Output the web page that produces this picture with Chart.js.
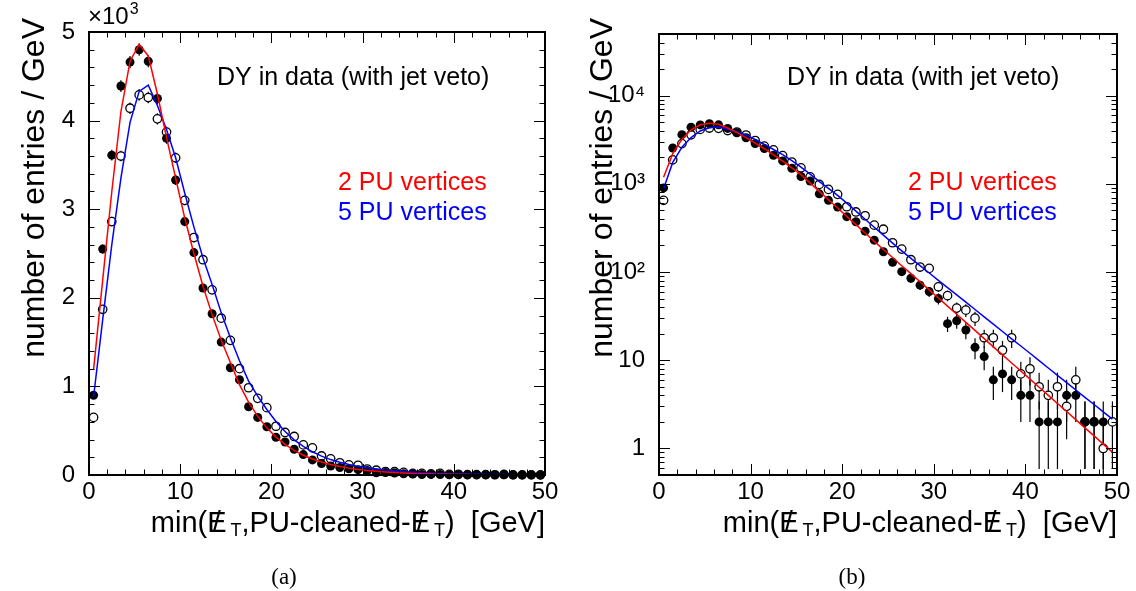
<!DOCTYPE html>
<html>
<head>
<meta charset="utf-8">
<script src="https://cdn.jsdelivr.net/npm/chart.js@4.4.1/dist/chart.umd.min.js"></script>
<style>
  html, body { margin: 0; padding: 0; background: #fff; }
  #page { position: relative; width: 1136px; height: 591px; overflow: hidden; }
  .panel { position: absolute; top: 0; width: 568px; height: 591px; }
  .caption { position: absolute; top: 564px; width: 568px; text-align: center;
             font-family: 'Liberation Serif', 'DejaVu Serif', serif; font-size: 23px; line-height: 26px; }
</style>
</head>
<body>
<div id="page">
  <div class="panel" style="left:0"><canvas id="chartLin" width="568" height="591"></canvas></div>
  <div class="panel" style="left:568px"><canvas id="chartLog" width="568" height="591"></canvas></div>
  <div class="caption" style="left:0">(a)</div>
  <div class="caption" style="left:568px">(b)</div>
</div>
<script>
/* ---- Dados ---- */
const binCenters = [0.5, 1.5, 2.5, 3.5, 4.5, 5.5, 6.5, 7.5, 8.5, 9.5,
  10.5, 11.5, 12.5, 13.5, 14.5, 15.5, 16.5, 17.5, 18.5, 19.5,
  20.5, 21.5, 22.5, 23.5, 24.5, 25.5, 26.5, 27.5, 28.5, 29.5,
  30.5, 31.5, 32.5, 33.5, 34.5, 35.5, 36.5, 37.5, 38.5, 39.5,
  40.5, 41.5, 42.5, 43.5, 44.5, 45.5, 46.5, 47.5, 48.5, 49.5];

// 2 PU vertices (marcador cheio)
const data2PU = [900, 2550, 3610, 4390, 4660, 4800, 4670, 4250, 3800, 3330,
  2860, 2510, 2110, 1820, 1500, 1210, 1075, 770, 650, 545,
  425, 372, 291, 230, 170, 129, 101, 85, 71, 60,
  50, 26, 28, 22, 14, 11, 6, 7, 6, 4,
  4, 2, 2, 2, 4, 4, 2, 2, 2, 0];

// 5 PU vertices (marcador aberto)
const data5PU = [650, 1870, 2860, 3600, 4140, 4290, 4260, 4020, 3870, 3580,
  3100, 2680, 2430, 2090, 1770, 1520, 1200, 985, 865, 760,
  550, 480, 435, 340, 306, 215, 182, 138, 114, 110,
  68, 54, 39, 37, 30, 18, 18, 13, 18, 7,
  8, 5, 4, 5, 3, 6, 2, 2, 1, 2];

// curvas ajustadas
const fit2PU = [1190, 2200, 3200, 4100, 4670, 4860, 4730, 4300, 3810, 3350,
  2900, 2500, 2130, 1810, 1520, 1270, 1020, 822, 661, 532,
  428, 345, 277, 223, 180, 146, 118, 96, 77.5, 62.8,
  50.8, 41.1, 33.2, 26.9, 21.8, 17.6, 14.2, 11.5, 9.3, 7.55,
  6.1, 4.94, 4.0, 3.23, 2.62, 2.12, 1.71, 1.39, 1.12, 0.91];

const fit5PU = [880, 1750, 2600, 3350, 3980, 4330, 4400, 4170, 3900, 3580,
  3180, 2800, 2450, 2150, 1830, 1550, 1290, 1060, 890, 740,
  605, 490, 397, 322, 262, 213, 174, 143, 118, 97.5,
  80.6, 66.6, 55, 45.5, 37.6, 31, 25.7, 21.2, 17.5, 14.5,
  12, 9.9, 8.17, 6.75, 5.58, 4.6, 3.8, 3.15, 2.6, 2.15];

const xTickLabels = [0, 10, 20, 30, 40, 50];
const linYTickLabels = [0, 1, 2, 3, 4, 5];          // x10^3
const logDecades = [1, 10, 100, 1000, 10000];

const noteText = 'DY in data (with jet veto)';
const legendLabels = ['2 PU vertices', '5 PU vertices'];
const yTitle = 'number of entries / GeV';

/* ---- Estilo ---- */
const FONT = "'Liberation Sans', Arial, Helvetica, sans-serif";
const SUP = { 2: '\u00b2', 3: '\u00b3', 4: '\u2074' };

const panelCfg = {
  chartLin: { log: false, area: { top: 32, left: 89, right: 545 }, noteX: 217, legX: 338, exp: true },
  chartLog: { log: true,  area: { top: 34, left: 91, right: 549 }, noteX: 219, legX: 340, exp: false }
};

/* ---- Plugin estilo ROOT: barras de erro, moldura, ticks internos, textos ---- */
const rootStyle = {
  id: 'rootStyle',
  beforeDatasetsDraw(chart) {
    const { ctx, chartArea: a, scales: { x, y } } = chart;
    ctx.save();
    ctx.beginPath();
    ctx.rect(a.left, a.top, a.right - a.left, a.bottom - a.top);
    ctx.clip();
    ctx.strokeStyle = '#000';
    ctx.lineWidth = 1.2;
    chart.data.datasets.forEach(ds => {
      if (!ds.errBars) return;
      ds.data.forEach(p => {
        if (p.y == null) return;
        const e = Math.sqrt(p.y);
        const px = x.getPixelForValue(p.x);
        const lo = (p.y - e) > y.min ? y.getPixelForValue(p.y - e) : a.bottom;
        const hi = y.getPixelForValue(p.y + e);
        ctx.beginPath();
        ctx.moveTo(px, lo);
        ctx.lineTo(px, hi);
        ctx.stroke();
      });
    });
    ctx.restore();
  },
  afterDraw(chart) {
    const cfg = panelCfg[chart.canvas.id];
    const { ctx, chartArea: a, scales: { x, y } } = chart;
    ctx.save();

    // ticks internos nos quatro lados
    ctx.strokeStyle = '#000';
    ctx.lineWidth = 1;
    const seg = (x1, y1, x2, y2) => { ctx.beginPath(); ctx.moveTo(x1, y1); ctx.lineTo(x2, y2); ctx.stroke(); };
    for (let v = 0; v <= 50; v += 2) {
      const px = Math.round(x.getPixelForValue(v)) + 0.5;
      const len = v % 10 === 0 ? 11 : 5.5;
      seg(px, a.bottom, px, a.bottom - len);
      seg(px, a.top, px, a.top + len);
    }
    const yTick = (v, major) => {
      const py = Math.round(y.getPixelForValue(v)) + 0.5;
      const len = major ? 11 : 5.5;
      seg(a.left, py, a.left + len, py);
      seg(a.right, py, a.right - len, py);
    };
    if (cfg.log) {
      for (let d = 0.1; d <= 1e4 * 1.01; d *= 10) {
        for (let m = 1; m <= 9; m++) {
          const v = d * m;
          if (v >= y.min * 0.999 && v <= y.max * 1.001) yTick(v, m === 1);
        }
      }
    } else {
      for (let v = 0; v <= 5000; v += 200) yTick(v, v % 1000 === 0);
    }

    // moldura
    ctx.lineWidth = 2;
    ctx.strokeRect(a.left, a.top, a.right - a.left, a.bottom - a.top);

    ctx.fillStyle = '#000';
    // x10^3
    if (cfg.exp) {
      ctx.font = `24px ${FONT}`;
      ctx.textBaseline = 'alphabetic';
      ctx.textAlign = 'left';
      const base = '\u00d710';
      ctx.fillText(base, 88, 24);
      const w = ctx.measureText(base).width;
      ctx.font = `16px ${FONT}`;
      ctx.fillText('3', 88 + w + 1, 14);
    }

    // título do eixo y (alinhado ao topo)
    ctx.save();
    ctx.font = `32px ${FONT}`;
    ctx.translate(35, 18);
    ctx.rotate(-Math.PI / 2);
    ctx.textAlign = 'right';
    ctx.textBaseline = 'middle';
    ctx.fillText(yTitle, 0, 0);
    ctx.restore();

    // título do eixo x: min(MET, PU-cleaned-MET) [GeV]
    drawMetTitle(ctx, a.right, 532);

    // texto e legenda
    ctx.textAlign = 'left';
    ctx.textBaseline = 'middle';
    ctx.font = `25px ${FONT}`;
    ctx.fillStyle = '#000';
    ctx.fillText(noteText, cfg.noteX, 78);
    ctx.fillStyle = '#ff0000';
    ctx.fillText(legendLabels[0], cfg.legX, 183);
    ctx.fillStyle = '#0000ff';
    ctx.fillText(legendLabels[1], cfg.legX, 213);
    ctx.restore();
  }
};

function drawMetTitle(ctx, right, baseline) {
  const big = `29px ${FONT}`, small = `18px ${FONT}`;
  const parts = [
    { t: 'min(', f: big },
    { t: 'E', f: big, slash: true },
    { t: 'T', f: small, sub: true },
    { t: ',PU-cleaned-', f: big },
    { t: 'E', f: big, slash: true },
    { t: 'T', f: small, sub: true },
    { t: ')  [GeV]', f: big }
  ];
  ctx.save();
  ctx.textAlign = 'left';
  ctx.textBaseline = 'alphabetic';
  let total = 0;
  parts.forEach(p => {
    ctx.font = p.f;
    p.w = ctx.measureText(p.t).width + (p.slash ? 4 : 0);
    total += p.w;
  });
  let cx = right - total;
  parts.forEach(p => {
    ctx.font = p.f;
    ctx.fillText(p.t, cx, baseline + (p.sub ? 4 : 0));
    if (p.slash) {
      const wE = ctx.measureText('E').width;
      const wS = ctx.measureText('/').width;
      ctx.fillText('/', cx + (wE - wS) / 2, baseline);
    }
    cx += p.w;
  });
  ctx.restore();
}

/* ---- Gráficos ---- */
function makeChart(canvasId) {
  const cfg = panelCfg[canvasId];
  const logY = cfg.log;
  const pts = arr => binCenters.map((x, i) => ({ x, y: (logY && arr[i] <= 0) ? null : arr[i] }));
  const tickFont = { family: FONT, size: 24 };

  const yScale = logY ? {
    type: 'logarithmic',
    min: 0.5,
    max: 50000,
    grid: { display: false },
    border: { display: false },
    ticks: {
      color: '#000', font: tickFont, padding: 6, autoSkip: false,
      callback: v => {
        const n = Math.round(Math.log10(v));
        if (!logDecades.includes(v) && Math.abs(Math.pow(10, n) - v) > 1e-9) return '';
        if (n === 0) return '1';
        if (n === 1) return '10';
        return '10' + SUP[n];
      }
    },
    afterFit: s => { s.width = cfg.area.left; }
  } : {
    type: 'linear',
    min: 0,
    max: 5000,
    grid: { display: false },
    border: { display: false },
    ticks: {
      color: '#000', font: tickFont, padding: 6, stepSize: 1000,
      callback: v => linYTickLabels.includes(v / 1000) ? String(v / 1000) : ''
    },
    afterFit: s => { s.width = cfg.area.left; }
  };

  return new Chart(document.getElementById(canvasId), {
    type: 'scatter',
    data: {
      datasets: [
        { label: 'fit 2 PU', data: pts(fit2PU), showLine: true, borderColor: '#ff0000',
          borderWidth: 1.5, pointRadius: 0, order: 0 },
        { label: 'fit 5 PU', data: pts(fit5PU), showLine: true, borderColor: '#0000ff',
          borderWidth: 1.5, pointRadius: 0, order: 1 },
        { label: '2 PU', data: pts(data2PU), errBars: true, pointRadius: 4.5,
          pointBackgroundColor: '#000', pointBorderColor: '#000', pointBorderWidth: 0, order: 2, clip: 6 },
        { label: '5 PU', data: pts(data5PU), errBars: true, pointRadius: 4.2,
          pointBackgroundColor: '#fff', pointBorderColor: '#000', pointBorderWidth: 1.3, order: 3, clip: 6 }
      ]
    },
    options: {
      responsive: false,
      animation: false,
      devicePixelRatio: 1,
      layout: { padding: { top: cfg.area.top, right: 568 - cfg.area.right, bottom: 0, left: 0 } },
      plugins: { legend: { display: false }, tooltip: { enabled: false } },
      scales: {
        x: {
          type: 'linear',
          min: 0,
          max: 50,
          grid: { display: false },
          border: { display: false },
          ticks: {
            color: '#000', font: tickFont, padding: -5, stepSize: 10,
            callback: v => xTickLabels.includes(v) ? String(v) : ''
          },
          afterFit: s => { s.height = 591 - 475; }
        },
        y: yScale
      }
    },
    plugins: [rootStyle]
  });
}

makeChart('chartLin');
makeChart('chartLog');
</script>
</body>
</html>
